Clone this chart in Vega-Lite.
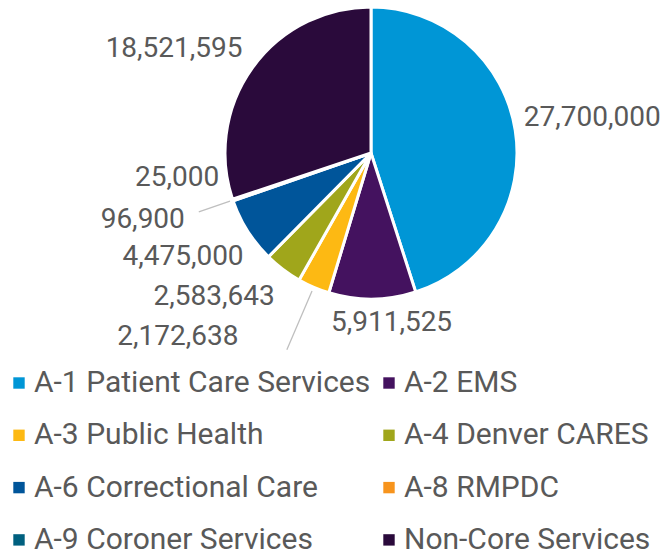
{
  "$schema": "https://vega.github.io/schema/vega-lite/v6.json",
  "width": 742,
  "height": 306,
  "padding": {"left": 0, "top": 0, "right": 0, "bottom": 246},
  "autosize": {"type": "none"},
  "background": "white",
  "config": {"view": {"stroke": null}, "font": "Roboto"},
  "data": {
    "values": [
      {"cat": "A-1 Patient Care Services", "value": 27700000},
      {"cat": "A-2 EMS", "value": 5911525},
      {"cat": "A-3 Public Health", "value": 2172638},
      {"cat": "A-4 Denver CARES", "value": 2583643},
      {"cat": "A-6 Correctional Care", "value": 4475000},
      {"cat": "A-8 RMPDC", "value": 96900},
      {"cat": "A-9 Coroner Services", "value": 25000},
      {"cat": "Non-Core Services", "value": 18521595}
    ]
  },
  "encoding": {
    "theta": {"field": "value", "type": "quantitative", "stack": true},
    "order": {"field": "cat", "type": "ordinal", "sort": "ascending"}
  },
  "layer": [
    {
      "mark": {"type": "arc", "outerRadius": 146, "stroke": "white", "strokeWidth": 3},
      "encoding": {
        "color": {
          "field": "cat",
          "type": "nominal",
          "scale": {
            "domain": ["A-1 Patient Care Services", "A-2 EMS", "A-3 Public Health", "A-4 Denver CARES", "A-6 Correctional Care", "A-8 RMPDC", "A-9 Coroner Services", "Non-Core Services"],
            "range": ["#0096D6", "#44125F", "#FDB913", "#A0A61B", "#00559A", "#F7941D", "#00607F", "#2A0A3B"]
          },
          "legend": {
            "orient": "none",
            "legendX": 4,
            "legendY": 368,
            "title": null,
            "direction": "horizontal",
            "columns": 2,
            "columnPadding": 3,
            "rowPadding": 22.3,
            "symbolType": "square",
            "symbolSize": 130,
            "symbolStrokeWidth": 0,
            "labelFont": "Roboto",
            "labelFontSize": 30,
            "labelColor": "#595959",
            "labelOffset": 0,
            "labelLimit": 0,
            "padding": 0
          }
        }
      }
    },
    {
      "mark": {"type": "arc", "innerRadius": 149, "outerRadius": 182, "padAngle": 1, "fill": null, "stroke": "#BFBFBF", "strokeWidth": 1.3},
      "encoding": {
        "detail": {"field": "cat"},
        "strokeOpacity": {"condition": {"test": "datum.cat === 'A-8 RMPDC'", "value": 1}, "value": 0}
      }
    },
    {
      "mark": {"type": "arc", "innerRadius": 150, "outerRadius": 214, "padAngle": 1, "fill": null, "stroke": "#BFBFBF", "strokeWidth": 1.3},
      "encoding": {
        "detail": {"field": "cat"},
        "strokeOpacity": {"condition": {"test": "datum.cat === 'A-3 Public Health'", "value": 1}, "value": 0}
      }
    },
    {
      "mark": {"type": "text", "radius": 224, "fontSize": 28, "font": "Roboto"},
      "encoding": {
        "detail": {"field": "cat"},
        "color": {"value": "#595959"},
        "text": {"condition": {"test": "datum.cat === 'A-1 Patient Care Services'", "field": "value", "type": "quantitative", "format": ","}, "value": ""}
      }
    },
    {
      "mark": {"type": "text", "radius": 170, "dx": 19, "dy": 0, "fontSize": 28, "font": "Roboto"},
      "encoding": {
        "detail": {"field": "cat"},
        "color": {"value": "#595959"},
        "text": {"condition": {"test": "datum.cat === 'A-2 EMS'", "field": "value", "type": "quantitative", "format": ","}, "value": ""}
      }
    },
    {
      "mark": {"type": "text", "radius": 223, "dx": -16, "dy": 26, "fontSize": 28, "font": "Roboto"},
      "encoding": {
        "detail": {"field": "cat"},
        "color": {"value": "#595959"},
        "text": {"condition": {"test": "datum.cat === 'Non-Core Services'", "field": "value", "type": "quantitative", "format": ","}, "value": ""}
      }
    },
    {
      "mark": {"type": "text", "radius": 214, "dx": -7, "dy": -10, "fontSize": 28, "font": "Roboto"},
      "encoding": {
        "detail": {"field": "cat"},
        "color": {"value": "#595959"},
        "text": {"condition": {"test": "datum.cat === 'A-6 Correctional Care'", "field": "value", "type": "quantitative", "format": ","}, "value": ""}
      }
    },
    {
      "mark": {"type": "text", "radius": 212, "dx": -29, "dy": -25, "fontSize": 28, "font": "Roboto"},
      "encoding": {
        "detail": {"field": "cat"},
        "color": {"value": "#595959"},
        "text": {"condition": {"test": "datum.cat === 'A-4 Denver CARES'", "field": "value", "type": "quantitative", "format": ","}, "value": ""}
      }
    },
    {
      "mark": {"type": "text", "radius": 265, "dx": -89, "dy": -60, "fontSize": 28, "font": "Roboto"},
      "encoding": {
        "detail": {"field": "cat"},
        "color": {"value": "#595959"},
        "text": {"condition": {"test": "datum.cat === 'A-3 Public Health'", "field": "value", "type": "quantitative", "format": ","}, "value": ""}
      }
    },
    {
      "mark": {"type": "text", "radius": 237, "dx": -4, "dy": -10, "fontSize": 28, "font": "Roboto"},
      "encoding": {
        "detail": {"field": "cat"},
        "color": {"value": "#595959"},
        "text": {"condition": {"test": "datum.cat === 'A-8 RMPDC'", "field": "value", "type": "quantitative", "format": ","}, "value": ""}
      }
    },
    {
      "mark": {"type": "text", "radius": 195, "dx": -9, "dy": -37, "fontSize": 28, "font": "Roboto"},
      "encoding": {
        "detail": {"field": "cat"},
        "color": {"value": "#595959"},
        "text": {"condition": {"test": "datum.cat === 'A-9 Coroner Services'", "field": "value", "type": "quantitative", "format": ","}, "value": ""}
      }
    }
  ]
}
